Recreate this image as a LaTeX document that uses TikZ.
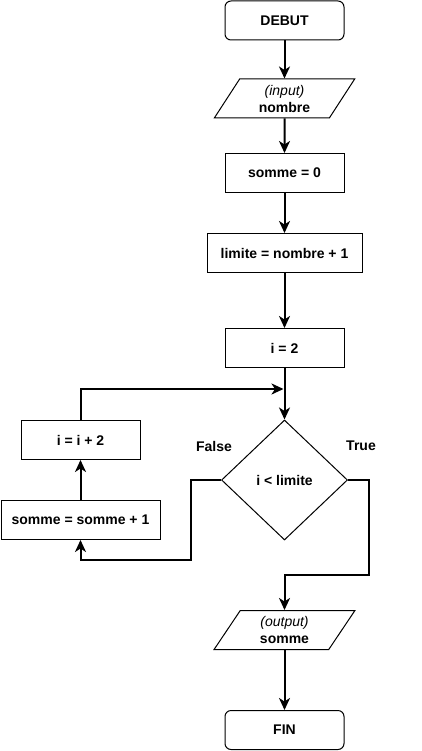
\documentclass[tikz,border=0pt]{standalone}
\usepackage{fontspec}
\setmainfont{Liberation Sans}
\usetikzlibrary{shapes.geometric,arrows.meta}
\begin{document}
\begin{tikzpicture}[x=1pt,y=-1pt,
 txt/.style={font=\fontsize{14}{17}\selectfont\bfseries},
 box/.style={txt,draw,line width=1pt,minimum width=119pt,minimum height=39pt,inner sep=0pt},
 term/.style={box,rounded corners=6pt},
 io/.style={draw,line width=1pt,trapezium,trapezium left angle=62,trapezium right angle=118,trapezium stretches=true,minimum width=141pt,minimum height=39pt,inner sep=0pt,align=center,font=\fontsize{14}{17}\selectfont},
 dec/.style={txt,draw,diamond,line width=1pt,minimum width=126pt,minimum height=120pt,inner sep=0pt},
 conn/.style={line width=2pt,-{Stealth[length=12pt,width=11pt,inset=3.5pt]}},
 lbl/.style={txt}]
\useasboundingbox (0,0) rectangle (421,751);
\node[term] (debut) at (284.5,20.5) {DEBUT};
\node[io] (in) at (284.5,98.5) {\textit{(input)}\\\textbf{nombre}};
\node[box] (s0) at (284.5,173) {somme = 0};
\node[box,minimum width=155pt] (lim) at (284.5,253) {limite = nombre + 1};
\node[box] (i2) at (284.5,348) {i = 2};
\node[dec] (dec) at (284.5,480) {i < limite};
\node[box] (inc) at (80.5,440) {i = i + 2};
\node[box,minimum width=159pt] (sum) at (80.5,520) {somme = somme + 1};
\node[io] (out) at (284.5,630) {\textit{(output)}\\\textbf{somme}};
\node[term] (fin) at (284.5,730) {FIN};
\node[lbl] (lf) at (214,446) {False};
\node[lbl] (lt) at (361,446) {True};
\coordinate (loopend) at (283.5,389);
\draw[conn] (debut) -- (in);
\draw[conn] (in) -- (s0);
\draw[conn] (s0) -- (lim);
\draw[conn] (lim) -- (i2);
\draw[conn] (i2) -- (dec);
\draw[conn] (inc.north) |- (loopend);
\draw[conn] (sum) -- (inc);
\draw[conn] (dec.west) -- ++(-30,0) -- ++(0,80) -| (sum.south);
\draw[conn] (dec.east) -- ++(21,0) -- ++(0,95) -| (out.north);
\draw[conn] (out) -- (fin);
\end{tikzpicture}
\end{document}
